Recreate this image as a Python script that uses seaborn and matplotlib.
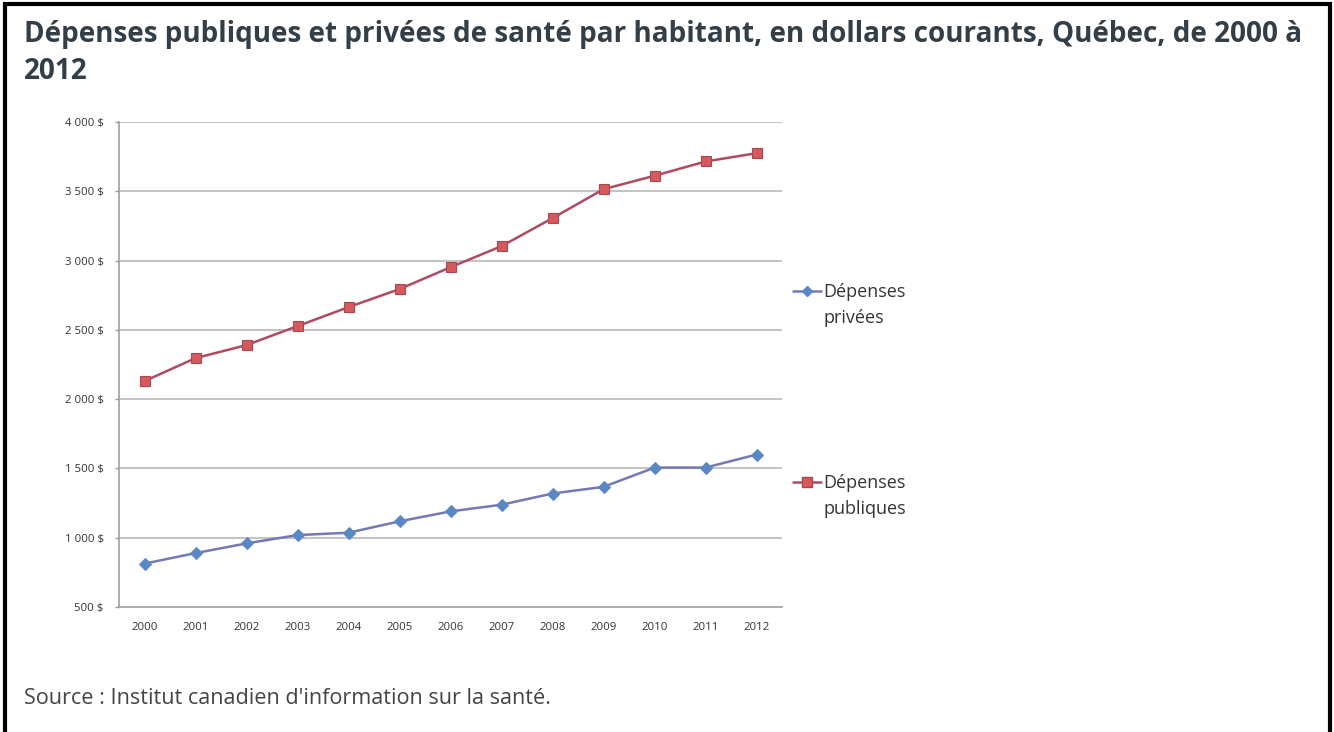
import pandas as pd
import seaborn as sns
import matplotlib
matplotlib.use('Agg')
from matplotlib import pyplot as plt
from matplotlib.lines import Line2D
from matplotlib.patches import Rectangle

# data
years = [2000, 2001, 2002, 2003, 2004, 2005, 2006, 2007, 2008, 2009, 2010, 2011, 2012]
privees = [813, 889, 959, 1019, 1036, 1118, 1190, 1238, 1319, 1367, 1506, 1506, 1600]
publiques = [2130, 2296, 2390, 2527, 2664, 2794, 2952, 3104, 3306, 3515, 3612, 3715, 3775]
y_ticks = [500, 1000, 1500, 2000, 2500, 3000, 3500, 4000]
y_labels = ['500 $', '1 000 $', '1 500 $', '2 000 $', '2 500 $', '3 000 $', '3 500 $', '4 000 $']

# format plots
sns.set_style("white")
plt.rcParams['font.family'] = ['Open Sans', 'DejaVu Sans']

df = pd.DataFrame({'Année': years, 'privées': privees, 'publiques': publiques})

W, H = 1334, 732
fig = plt.figure(figsize=(W / 100, H / 100), dpi=100)
ax = fig.add_axes([119 / W, 1 - 607 / H, (782 - 119) / W, (607 - 122) / H])

blue_line, blue_mark = '#7479B4', '#5A88C4'
red_line, red_mark = '#AE4A62', '#D45A5E'

sns.lineplot(data=df, x='Année', y='privées', ax=ax, color=blue_line, linewidth=1.8,
             marker='D', markersize=6.5, markerfacecolor=blue_mark, markeredgecolor=blue_mark)
sns.lineplot(data=df, x='Année', y='publiques', ax=ax, color=red_line, linewidth=1.8,
             marker='s', markersize=7.5, markerfacecolor=red_mark, markeredgecolor='#A84850',
             markeredgewidth=0.8)

# axes
ax.set_xlim(years[0] - 0.5, years[-1] + 0.5)
ax.set_ylim(500, 4000)
ax.set_xticks(years)
ax.set_xticklabels([str(y) for y in years], fontsize=8.2, color='#333333')
ax.set_xticks([y + 0.5 for y in [years[0] - 1] + years], minor=True)
ax.tick_params(axis='x', which='major', length=0, pad=11)
ax.tick_params(axis='x', which='minor', length=3, color='#999999', width=1)
ax.set_yticks(y_ticks)
ax.set_yticklabels(y_labels, fontsize=8.2, color='#333333')
ax.tick_params(axis='y', length=3, color='#999999', width=1, pad=8, left=True)
ax.set_xlabel('')
ax.set_ylabel('')
for y in y_ticks[1:]:
    ax.axhline(y, color='#C4C4C4', linewidth=1.5, zorder=0)
for side in ['top', 'right']:
    ax.spines[side].set_visible(False)
for side in ['left', 'bottom']:
    ax.spines[side].set_color('#A0A0A0')
    ax.spines[side].set_linewidth(1.2)

# legend, Excel style on the right: one small legend per series
blank = Line2D([], [], alpha=0)
h_priv = Line2D([], [], color=blue_line, linewidth=1.8, marker='D', markersize=5,
                markerfacecolor=blue_mark, markeredgecolor=blue_mark)
h_pub = Line2D([], [], color=red_line, linewidth=1.8, marker='s', markersize=6.5,
               markerfacecolor=red_mark, markeredgecolor='#A84850')
for handle, word, top in [(h_priv, 'privées', 283), (h_pub, 'publiques', 474)]:
    leg = fig.legend([handle, blank], ['Dépenses', word], loc='upper left',
                     bbox_to_anchor=(793 / W, 1 - top / H), frameon=False,
                     fontsize=13, labelspacing=0.45, handlelength=1.55, handletextpad=0.15,
                     borderpad=0, borderaxespad=0)
    for t in leg.get_texts():
        t.set_color('#333333')

# title and source
title_kw = dict(fontsize=20.1, fontweight='bold', color='#333F48', va='baseline', ha='left')
fig.text(24 / W, 1 - 42 / H,
         'Dépenses publiques et privées de santé par habitant, en dollars courants, Québec, de 2000 à',
         **title_kw)
fig.text(24 / W, 1 - 79 / H, '2012', **title_kw)
fig.text(24 / W, 1 - 704 / H, "Source : Institut canadien d'information sur la santé.",
         fontsize=15.6, color='#444444', va='baseline', ha='left')

# page frame
fig.patches.append(Rectangle((5 / W, -0.01), (1330 - 5) / W, 1.01 - 4 / H,
                             transform=fig.transFigure, fill=False, edgecolor='black',
                             linewidth=3))

plt.savefig('out.png', dpi=100)
plt.close()
